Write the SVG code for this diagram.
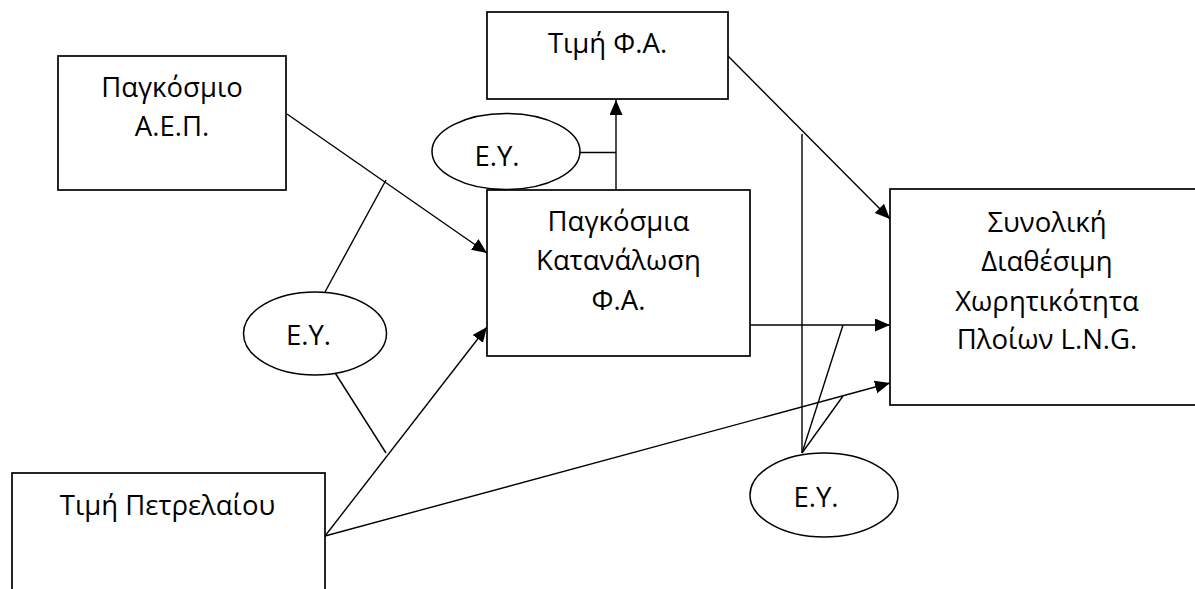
<svg xmlns="http://www.w3.org/2000/svg" width="1195" height="589" viewBox="0 0 1195 589">
  <style>
    .box { fill: #ffffff; stroke: #000000; stroke-width: 1.7; }
    .oval { fill: #ffffff; stroke: #000000; stroke-width: 1.5; }
    .lbl { font-family: "Open Sans", "Noto Sans", sans-serif; font-size: 27.5px; fill: #000000; text-anchor: middle; }
    .wire { fill: none; stroke: #000000; stroke-width: 1.4; }
    .arrow { fill: none; stroke: #000000; stroke-width: 1.4; marker-end: url(#head); }
  </style>
  <defs>
    <marker id="head" markerUnits="userSpaceOnUse" markerWidth="16" markerHeight="14" refX="15" refY="6.5" orient="auto">
      <path d="M0,0 L15,6.5 L0,13 Z" fill="#000000"/>
    </marker>
  </defs>

  <rect width="1195" height="589" fill="#ffffff"/>

  <!-- connectors -->
  <g id="connectors">
    <!-- GDP -> consumption -->
    <line class="arrow" x1="287" y1="114" x2="487" y2="253"/>
    <!-- oil price -> consumption -->
    <line class="arrow" x1="325" y1="536" x2="487" y2="327"/>
    <!-- oil price -> fleet capacity -->
    <line class="arrow" x1="325" y1="536" x2="890" y2="383"/>
    <!-- consumption -> gas price -->
    <line class="arrow" x1="616" y1="190" x2="616" y2="100"/>
    <!-- gas price -> fleet capacity -->
    <line class="arrow" x1="728" y1="56" x2="890" y2="219"/>
    <!-- consumption -> fleet capacity -->
    <line class="arrow" x1="750" y1="325" x2="890" y2="325"/>

    <!-- error-term links -->
    <line class="wire" x1="580" y1="152.5" x2="616" y2="152.5"/>
    <line class="wire" x1="325" y1="292" x2="386" y2="180"/>
    <line class="wire" x1="325" y1="357" x2="386" y2="453"/>
    <line class="wire" x1="802" y1="134" x2="802" y2="453"/>
    <line class="wire" x1="802" y1="453" x2="843" y2="325"/>
    <line class="wire" x1="802" y1="453" x2="843" y2="396"/>
  </g>

  <g id="node-gdp">
    <rect class="box" x="58" y="56" width="228" height="134"/>
    <text class="lbl" x="172" y="97">Παγκόσμιο</text>
    <text class="lbl" x="172" y="136">Α.Ε.Π.</text>
  </g>

  <g id="node-gas-price">
    <rect class="box" x="487" y="12" width="241" height="87"/>
    <text class="lbl" x="607.5" y="53">Τιμή Φ.Α.</text>
  </g>

  <g id="node-error-top">
    <ellipse class="oval" cx="506" cy="151.5" rx="74" ry="38"/>
    <text class="lbl" x="497" y="166">Ε.Υ.</text>
  </g>

  <g id="node-consumption">
    <rect class="box" x="487" y="190" width="263" height="166"/>
    <text class="lbl" x="618.5" y="231">Παγκόσμια</text>
    <text class="lbl" x="618.5" y="270">Κατανάλωση</text>
    <text class="lbl" x="618.5" y="309.5">Φ.Α.</text>
  </g>

  <g id="node-fleet">
    <rect class="box" x="890" y="189" width="315" height="216"/>
    <text class="lbl" x="1047" y="231.5">Συνολική</text>
    <text class="lbl" x="1047" y="270.5">Διαθέσιμη</text>
    <text class="lbl" x="1047" y="311">Χωρητικότητα</text>
    <text class="lbl" x="1047" y="349">Πλοίων L.N.G.</text>
  </g>

  <g id="node-error-left">
    <ellipse class="oval" cx="315" cy="333.5" rx="71.5" ry="41.5"/>
    <text class="lbl" x="308.5" y="344.5">Ε.Υ.</text>
  </g>

  <g id="node-oil-price">
    <rect class="box" x="12" y="473" width="313" height="130"/>
    <text class="lbl" x="167.5" y="514.5">Τιμή Πετρελαίου</text>
  </g>

  <g id="node-error-bottom">
    <ellipse class="oval" cx="824" cy="495" rx="74" ry="42"/>
    <text class="lbl" x="816" y="506.5">Ε.Υ.</text>
  </g>
</svg>
